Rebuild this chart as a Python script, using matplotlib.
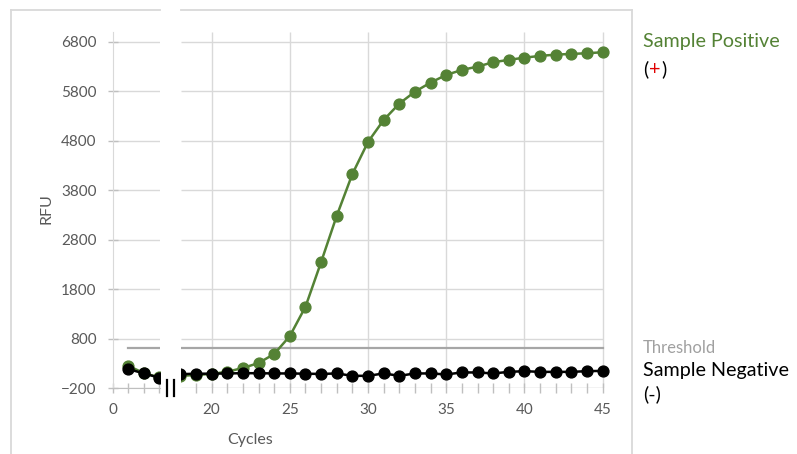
import matplotlib
matplotlib.use("Agg")
import matplotlib.pyplot as plt
from matplotlib.lines import Line2D

plt.rcParams['font.family'] = ['Lato', 'DejaVu Sans']

# visible cycles (4-17 are hidden behind the axis break)
cycles = [1, 2, 3] + list(range(18, 46))
positive = [257, 110, 20,
            50, 70, 90, 135, 210, 311, 493, 856, 1448, 2351, 3287, 4129, 4777,
            5220, 5551, 5791, 5975, 6129, 6230, 6297, 6386, 6433, 6478, 6513,
            6539, 6553, 6567, 6587]
negative = [190, 103, 15,
            85, 95, 95, 100, 105, 105, 100, 100, 95, 90, 100, 52, 52,
            100, 52, 100, 100, 80, 120, 120, 100, 132, 146, 132, 132, 132, 146, 152]
threshold = 620
thr_cycles = [1, 45]
y_ticks = [-200, 800, 1800, 2800, 3800, 4800, 5800, 6800]
x_major = [20, 25, 30, 35, 40, 45]

W, H = 797, 454
GREEN = '#548235'
GRID = '#D9D9D9'
AXIS = '#BFBFBF'
LABEL = '#595959'


def fx(px):
    return px / W


def fy(py):
    return 1 - py / H


fig = plt.figure(figsize=(W / 100, H / 100), dpi=100)

bottom = fy(388.3)
height = fy(31.8) - bottom
ax_l = fig.add_axes([fx(112.5), bottom, (160 - 112.5) / W, height])
ax_r = fig.add_axes([fx(181), bottom, (612.1 - 181) / W, height])

ax_l.set_xlim(0, (160 - 112.5) / 15.5)
ax_r.set_xlim(18.04, 18.04 + (612.1 - 181) / 15.64)
for ax in (ax_l, ax_r):
    ax.set_ylim(-200, 7000)
    for s in ax.spines.values():
        s.set_visible(False)
    ax.plot(thr_cycles, [threshold, threshold], color='#A6A6A6', lw=1.6, zorder=2)
    ax.plot(cycles, positive, color=GREEN, lw=1.8, marker='o', ms=7.8,
            zorder=3)
    ax.plot(cycles, negative, color='black', lw=1.8, marker='o', ms=7.8,
            zorder=4)
    ax.tick_params(axis='x', which='both', direction='inout', length=7,
                   color=AXIS, width=1, labelsize=11, labelcolor=LABEL, pad=7)

# left piece
ax_l.spines['left'].set_visible(True)
ax_l.spines['left'].set_color(GRID)
ax_l.spines['bottom'].set_visible(True)
ax_l.spines['bottom'].set_color(AXIS)
ax_l.set_yticks(y_ticks)
ax_l.tick_params(axis='y', direction='inout', length=7, color=AXIS, width=1,
                 labelsize=11, labelcolor=LABEL, pad=8)
ax_l.grid(axis='y', color=GRID, lw=1, zorder=0)
ax_l.set_axisbelow(True)
ax_l.set_xticks([0])
ax_l.set_xticks([1, 2, 3], minor=True)

# right piece
ax_r.set_yticks([])
ax_r.hlines(y_ticks[1:], 18.04, 45, color=GRID, lw=1, zorder=0)
ax_r.vlines(x_major, -200, 7000, color=GRID, lw=1, zorder=0)
ax_r.hlines(-200, 18.04, 45, color=AXIS, lw=1, zorder=1)
ax_r.set_xticks(x_major)
ax_r.set_xticks([c for c in range(19, 45) if c % 5], minor=True)

# outer chart border with the gap of the break
for xs, ys in [([11, 11], [10, 460]), ([11, 160], [10, 10]),
               ([181, 632], [10, 10]), ([632, 632], [10, 460])]:
    fig.add_artist(Line2D([fx(x) for x in xs], [fy(y) for y in ys],
                          color=GRID, lw=1.3))

# break marks
for x in (166.7, 174):
    fig.add_artist(Line2D([fx(x), fx(x)], [fy(380), fy(396)],
                          color='black', lw=1.6))

fig.text(fx(250), fy(444), 'Cycles', ha='center', va='baseline',
         fontsize=11.5, color=LABEL)
fig.text(fx(46), fy(209), 'RFU', ha='center', va='center', rotation=90,
         fontsize=11.5, color=LABEL)

fig.text(fx(643), fy(46.7), 'Sample Positive', ha='left', va='baseline',
         fontsize=14.2, color=GREEN)
fig.text(fx(643), fy(353.3), 'Threshold', ha='left', va='baseline',
         fontsize=12, color='#A0A0A0')
fig.text(fx(643), fy(376), 'Sample Negative', ha='left', va='baseline',
         fontsize=14.2, color='black')
fig.text(fx(643), fy(400), '(-)', ha='left', va='baseline',
         fontsize=14.2, color='black')

# "(+)" with a red plus
renderer = fig.canvas.get_renderer()
x0 = 643
for part, col in [('(', 'black'), ('+', '#E00000'), (')', 'black')]:
    t = fig.text(fx(x0), fy(75), part, ha='left', va='baseline',
                 fontsize=14.2, color=col)
    x0 += t.get_window_extent(renderer).width + 1

fig.savefig('out.png', dpi=100)
